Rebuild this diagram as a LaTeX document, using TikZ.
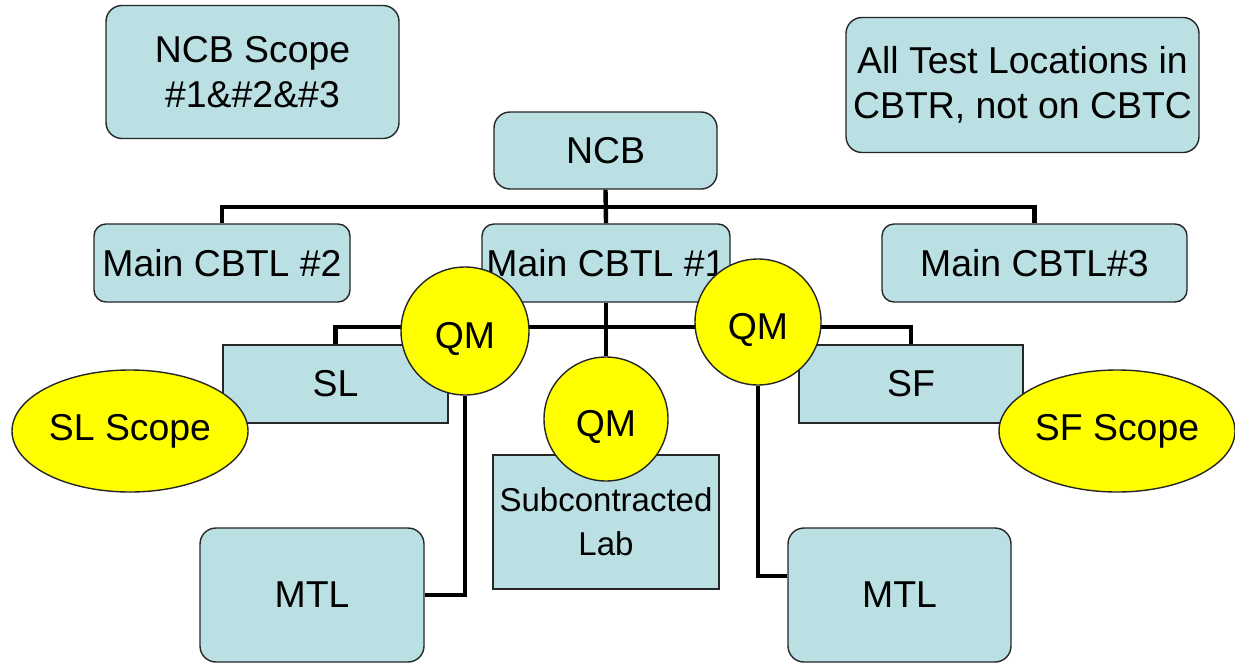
\documentclass[tikz,border=0pt]{standalone}
\usepackage{fontspec}
\setmainfont{Liberation Sans}
\usetikzlibrary{shapes.geometric,backgrounds,calc}
\definecolor{boxfill}{RGB}{186,224,227}
\definecolor{qmyellow}{RGB}{255,255,0}
\begin{document}
\begin{tikzpicture}[x=0.5pt,y=-0.5pt,
  base/.style={draw=black!85, line width=0.7pt, inner sep=0pt, align=center, font=\fontsize{18.7}{22.5}\selectfont},
  rbox/.style={base, fill=boxfill, rectangle, rounded corners=8pt},
  sbox/.style={base, fill=boxfill, rectangle},
  qm/.style={base, fill=qmyellow, circle, text height=17pt, text depth=0pt},
  scope/.style={base, fill=qmyellow, ellipse, minimum width=118pt, minimum height=61pt},
  conn/.style={line width=2.2pt, black}]
\useasboundingbox (0,0) rectangle (1235,664);
% boxes
\node[rbox, minimum width=146.5pt, minimum height=66.5pt] (ncbscope) at (252.5,72) {NCB Scope\\\#1\&\#2\&\#3};
\node[rbox, minimum width=176.5pt, minimum height=67.5pt] (alltest) at (1022.5,85) {All Test Locations in\\CBTR, not on CBTC};
\node[rbox, minimum width=111.5pt, minimum height=38.5pt] (ncb) at (605.5,150.5) {NCB};
\node[rbox, rounded corners=6pt, minimum width=128pt, minimum height=39pt] (cbtl2) at (222,263) {Main CBTL \#2};
\node[rbox, rounded corners=6pt, minimum width=124pt, minimum height=39pt] (cbtl1) at (606,263) {Main CBTL \#1};
\node[rbox, rounded corners=6pt, minimum width=152.5pt, minimum height=39pt] (cbtl3) at (1034.5,263) {Main CBTL\#3};
\node[sbox, minimum width=112.5pt, minimum height=39pt] (sl) at (335.5,384) {SL};
\node[sbox, minimum width=112pt, minimum height=39pt] (sf) at (911,384) {SF};
\node[sbox, minimum width=113pt, minimum height=67pt, font=\fontsize{16.5}{22}\selectfont] (sub) at (606,522) {Subcontracted\\Lab};
\node[rbox, minimum width=112pt, minimum height=67pt] (mtl1) at (312,595) {MTL};
\node[rbox, minimum width=111.5pt, minimum height=67pt] (mtl2) at (899.5,595) {MTL};
% circles and ellipses
\node[qm, minimum size=64pt] (qm1) at (465,331) {QM};
\node[qm, minimum size=62pt] (qm2) at (606,419) {QM};
\node[qm, minimum size=63pt] (qm3) at (758,322) {QM};
\node[scope] (slscope) at (130,431) {SL Scope};
\node[scope] (sfscope) at (1117,431) {SF Scope};
\coordinate (bus1) at (606,207);
\coordinate (bus2) at (606,327);
\begin{scope}[on background layer]
  \fill[white] (0,0) rectangle (1235,664);
  \draw[conn] (ncb.south) -- (cbtl1.north);
  \draw[conn] (cbtl2.north) |- (bus1) -| (cbtl3.north);
  \draw[conn] (cbtl1.south) -- (qm2.north);
  \draw[conn] (sl.north) |- (bus2) -| (sf.north);
  \draw[conn] (qm1.south) |- (mtl1.east);
  \draw[conn] (qm3.south) |- ([yshift=9.5pt]mtl2.west);
\end{scope}
\end{tikzpicture}
\end{document}
